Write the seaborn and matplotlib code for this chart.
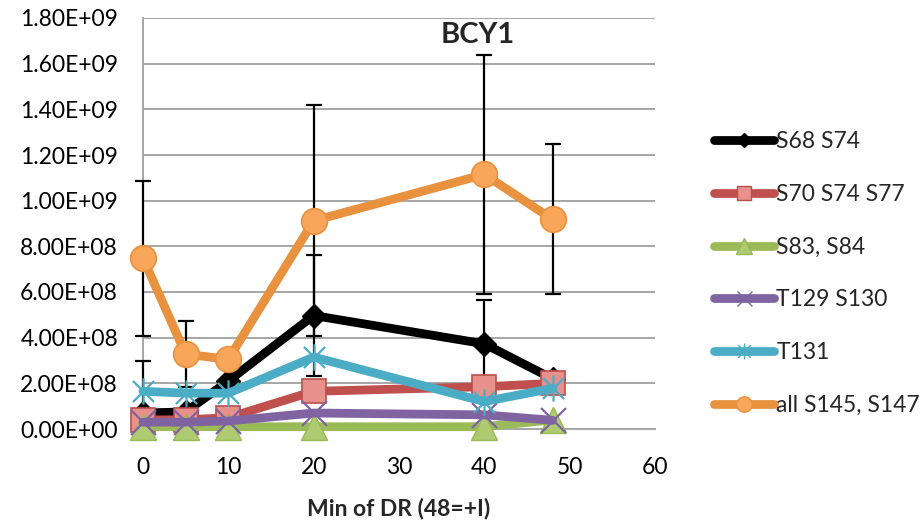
import numpy as np
import matplotlib
matplotlib.use("Agg")
import matplotlib.pyplot as plt
from matplotlib.lines import Line2D
from matplotlib.path import Path
from matplotlib.ticker import FuncFormatter, MultipleLocator
import seaborn as sns

# data
minutes = [0, 5, 10, 20, 40, 48]
s68_s74 = [7.0e7, 7.5e7, 2.1e8, 4.97e8, 3.73e8, 2.2e8]
s70_s74_s77 = [4.0e7, 4.0e7, 5.0e7, 1.65e8, 1.85e8, 2.0e8]
s83_s84 = [1.0e7, 1.0e7, 1.0e7, 1.0e7, 1.0e7, 4.0e7]
t129_s130 = [3.0e7, 3.0e7, 3.5e7, 7.0e7, 6.2e7, 3.8e7]
t131 = [1.65e8, 1.57e8, 1.57e8, 3.15e8, 1.2e8, 1.78e8]
all_s145_s147 = [7.48e8, 3.28e8, 3.05e8, 9.12e8, 1.115e9, 9.18e8]

s68_err = [2.3e8, 0, 0, 2.65e8, 1.9e8, 0]
all_err = [3.4e8, 1.46e8, 0, 5.06e8, 5.22e8, 3.28e8]

labels = ["S68 S74", "S70 S74 S77", "S83, S84", "T129 S130", "T131", "all S145, S147"]

sns.set_style("white")
plt.rcParams['font.family'] = ['Lato', 'DejaVu Sans']
FS = 16.5

# Excel-style star: an X with a vertical stroke
star = Path([(0, -1), (0, 1), (-0.8, -0.8), (0.8, 0.8), (-0.8, 0.8), (0.8, -0.8)],
            [Path.MOVETO, Path.LINETO] * 3)

fig = plt.figure(figsize=(9.23, 5.22), dpi=100)
ax = fig.add_axes([143 / 923, 1 - 429 / 522, 512 / 923, 411 / 522])

# error bars sit under the lines but over the axis line
x = np.array(minutes)
for vals, err in [(s68_s74, s68_err), (all_s145_s147, all_err)]:
    vals, err = np.array(vals), np.array(err)
    m = err > 0
    lower = np.minimum(err[m], vals[m])  # bars stop at the axis
    eb = ax.errorbar(x[m], vals[m], yerr=[lower, err[m]], fmt='none', ecolor='black',
                     elinewidth=1.6, capsize=5.8, capthick=1.6, zorder=1.5)
    for art in eb.lines[1] + eb.lines[2]:
        art.set_clip_on(False)

styles = [
    dict(color='black', marker='D', ms=12, mfc='black', mec='black', mew=1),
    dict(color='#C0504D', marker='s', ms=17, mfc='#E8908C', mec='#B9504C', mew=1.2),
    dict(color='#9BBB59', marker='^', ms=19, mfc='#AECB72', mec='#98B954', mew=1),
    dict(color='#8064A2', marker='x', ms=18, mec='#8064A2', mew=1.6),
    dict(color='#4BACC6', marker=star, ms=19, mec='#4BACC6', mew=1.6),
    dict(color='#E8913F', marker='o', ms=18.5, mfc='#F9A65A', mec='#E8913F', mew=1.2),
]
series = [s68_s74, s70_s74_s77, s83_s84, t129_s130, t131, all_s145_s147]

for i, (vals, st) in enumerate(zip(series, styles)):
    sns.lineplot(x=minutes, y=vals, ax=ax, sort=False, estimator=None,
                 linewidth=6.3, solid_capstyle='round', solid_joinstyle='round',
                 clip_on=False, zorder=2 + i, legend=False, **st)

ax.set_xlim(0, 60)
ax.set_ylim(0, 1.8e9)
ax.xaxis.set_major_locator(MultipleLocator(10))
ax.yaxis.set_major_locator(MultipleLocator(2e8))
ax.yaxis.set_major_formatter(FuncFormatter(lambda v, p: f"{v:.2E}"))
ax.grid(axis='y', color='#A6A6A6', linewidth=1.4)
ax.grid(axis='x', visible=False)
for side in ['top', 'right']:
    ax.spines[side].set_visible(False)
for side in ['left', 'bottom']:
    ax.spines[side].set_color('#A6A6A6')
    ax.spines[side].set_linewidth(1.4)
    ax.spines[side].set_zorder(1)
ax.tick_params(axis='both', which='major', direction='out', length=6, width=1.4,
               color='#A6A6A6', labelsize=FS, labelcolor='black')
ax.tick_params(axis='y', pad=12)
ax.tick_params(axis='x', pad=14)
ax.set_xlabel("Min of DR (48=+I)", fontsize=FS, labelpad=14)
ax.xaxis.label.set_fontweight('bold')
ax.text(0.654, 0.958, "BCY1", transform=ax.transAxes, ha='center', va='center',
        fontsize=21, fontweight='bold')

handles = []
for st in styles:
    h = Line2D([], [], color=st['color'], linewidth=6.3, solid_capstyle='round',
               marker=st['marker'], ms=st['ms'] * 0.6, mfc=st.get('mfc', st['color']),
               mec=st['mec'], mew=1)
    handles.append(h)
fig.legend(handles, labels, loc='upper left', bbox_to_anchor=(703 / 923, 1 - 120 / 522),
           frameon=False, fontsize=FS, handlelength=2.6, handletextpad=0.1,
           labelspacing=1.38, borderpad=0)

fig.savefig("out.png", dpi=100)
